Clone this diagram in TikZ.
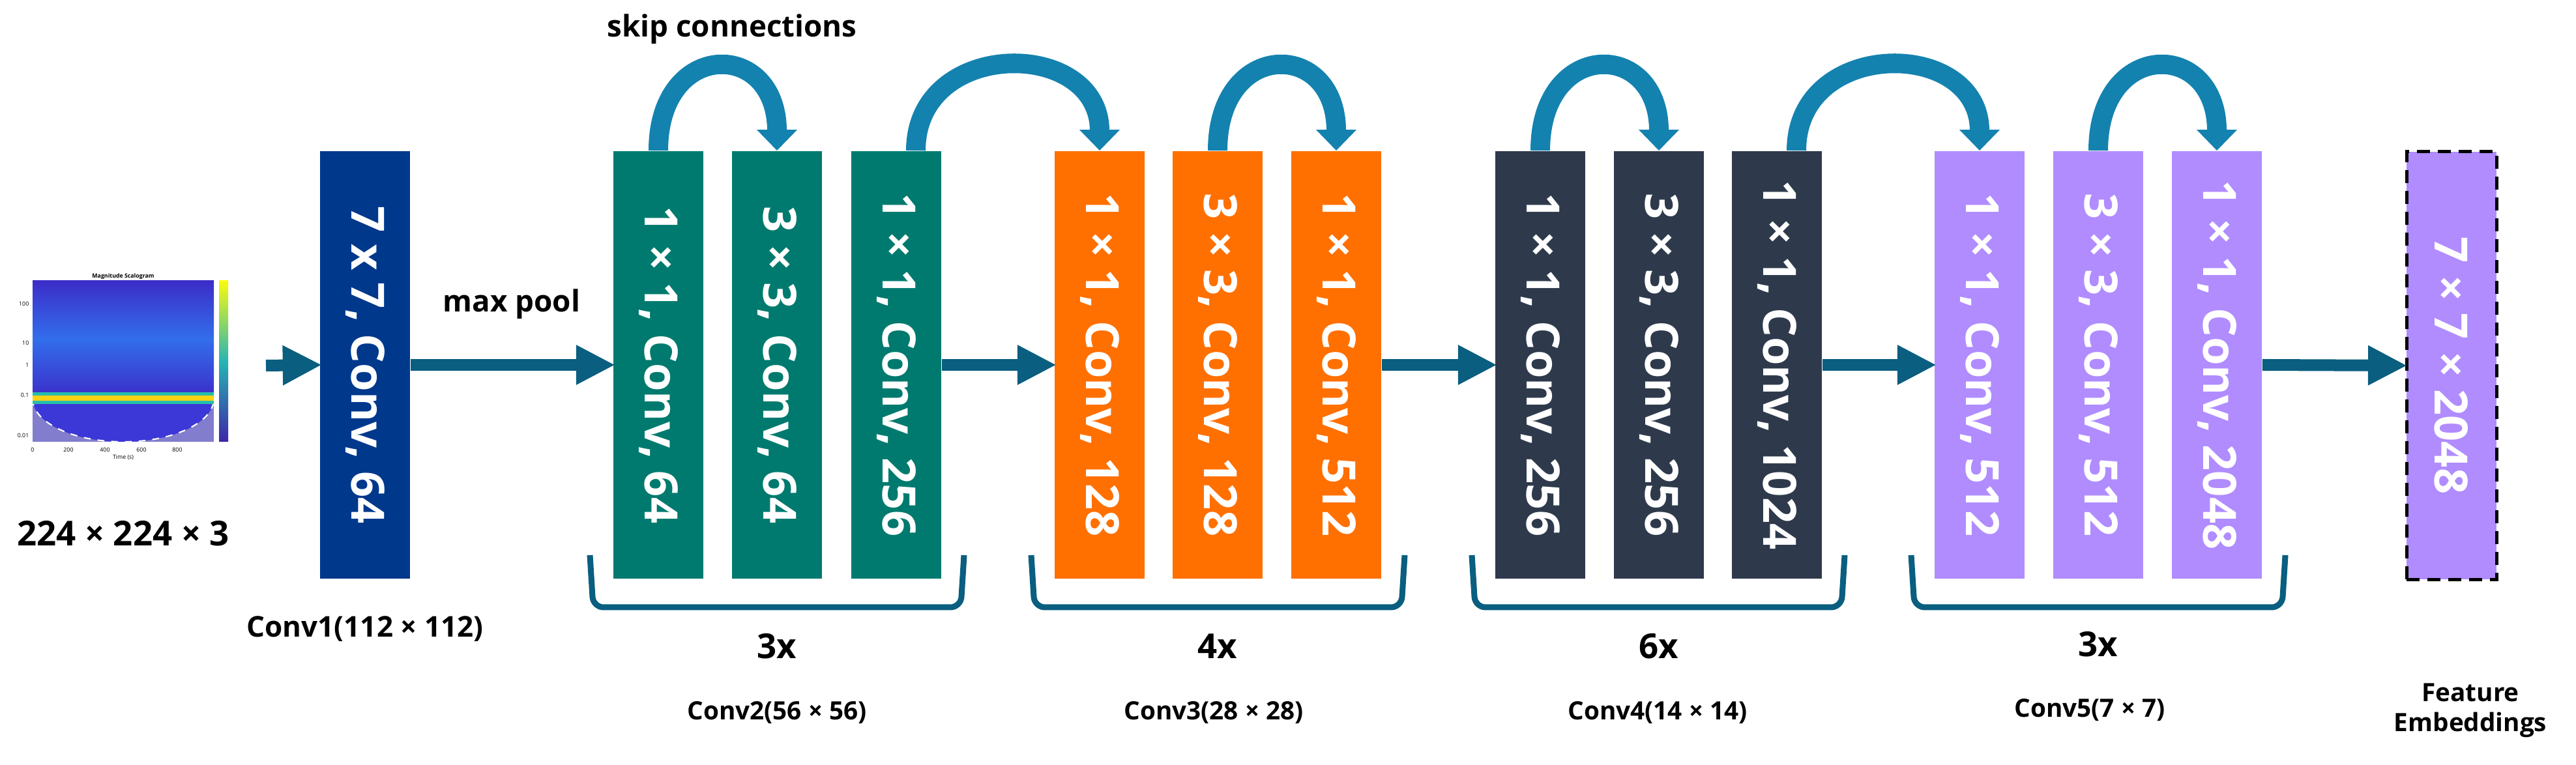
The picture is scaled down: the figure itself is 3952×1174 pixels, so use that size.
\documentclass[tikz,border=0pt]{standalone}
\usepackage{fontspec}
\setmainfont{Open Sans}
\usetikzlibrary{arrows.meta}
\definecolor{cblue}{RGB}{0,56,140}
\definecolor{cteal}{RGB}{0,122,110}
\definecolor{corange}{RGB}{255,112,0}
\definecolor{cdark}{RGB}{46,58,76}
\definecolor{cpurple}{RGB}{176,140,255}
\definecolor{carrow}{RGB}{10,94,128}
\definecolor{cskip}{RGB}{20,130,175}
\definecolor{sA}{RGB}{60,45,200}
\definecolor{sB}{RGB}{50,110,235}
\definecolor{sD}{RGB}{130,125,205}
\definecolor{sE}{RGB}{60,55,215}
\definecolor{sF}{RGB}{40,190,170}
\definecolor{sG}{RGB}{250,210,20}
\definecolor{sH}{RGB}{62,38,168}
\definecolor{sI}{RGB}{249,251,14}
\definecolor{sJ}{RGB}{40,180,180}
\begin{document}
\begin{tikzpicture}[x=0.01cm,y=-0.01cm,
  blk/.style={draw=none,minimum width=1.38cm,minimum height=6.56cm,inner sep=0pt,text=white,
    font=\fontsize{20}{24}\selectfont\bfseries},
  flow/.style={draw=carrow,line width=0.18cm,-{Triangle[width=0.57cm,length=0.6cm]},shorten >=-1pt},
  skip/.style={draw=cskip,line width=0.3cm,-{Triangle[width=0.6cm,length=0.32cm]}},
  brace/.style={draw=carrow,line width=0.09cm,rounded corners=0.16cm},
  lbl/.style={font=\fontsize{13}{15}\selectfont\bfseries,text=black},
  sub/.style={font=\fontsize{11}{13}\selectfont\bfseries,text=black},
  tiny/.style={font=\fontsize{2.5}{3}\selectfont,inner sep=0pt}]
\useasboundingbox (0,0) rectangle (3952,1174);
% scalogram
\node[tiny,font=\fontsize{2.5}{3}\selectfont\bfseries] (stitle) at (189,424) {Magnitude Scalogram};
\shade[top color=sA,bottom color=sA,middle color=sB] (50,431) rectangle (328,610);
\fill[sD] (50,610) rectangle (328,678);
\fill[sE] (50,612) arc[start angle=180,end angle=360,x radius=139,y radius=-66];
\draw[white,dashed,line width=0.6pt] (50,612) arc[start angle=180,end angle=360,x radius=139,y radius=-66];
\fill[sF] (50,602) rectangle (328,620);
\fill[sG] (50,607) rectangle (328,615);
\shade[bottom color=sH,top color=sI,middle color=sJ] (336,431) rectangle (350,678);
\foreach \t/\xx in {0/50,200/105,400/161,600/217,800/272}{\node[tiny] at (\xx,690) {\t};}
\foreach \t/\yy in {100/466,10/526,1/560,0.1/606,0.01/668}{\node[tiny,anchor=east] at (45,\yy) {\t};}
\node[tiny] (taxis) at (189,702) {Time (s)};
\node[lbl,font=\fontsize{15}{17}\selectfont\bfseries] (insize) at (189,819) {224 × 224 × 3};
\coordinate (inarr) at (408,561);
% blocks
\node[blk,fill=cblue] (c1) at (560,560) {\rotatebox{-90}{7 x 7, Conv, 64}};
\node[blk,fill=cteal] (a1) at (1010,560) {\rotatebox{-90}{1 × 1, Conv, 64}};
\node[blk,fill=cteal] (a2) at (1192,560) {\rotatebox{-90}{3 × 3, Conv, 64}};
\node[blk,fill=cteal] (a3) at (1375,560) {\rotatebox{-90}{1 × 1, Conv, 256}};
\node[blk,fill=corange] (b1) at (1687,560) {\rotatebox{-90}{1 × 1, Conv, 128}};
\node[blk,fill=corange] (b2) at (1868,560) {\rotatebox{-90}{3 × 3, Conv, 128}};
\node[blk,fill=corange] (b3) at (2050,560) {\rotatebox{-90}{1 × 1, Conv, 512}};
\node[blk,fill=cdark] (d1) at (2363,560) {\rotatebox{-90}{1 × 1, Conv, 256}};
\node[blk,fill=cdark] (d2) at (2545,560) {\rotatebox{-90}{3 × 3, Conv, 256}};
\node[blk,fill=cdark] (d3) at (2726,560) {\rotatebox{-90}{1 × 1, Conv, 1024}};
\node[blk,fill=cpurple] (e1) at (3037,560) {\rotatebox{-90}{1 × 1, Conv, 512}};
\node[blk,fill=cpurple] (e2) at (3219,560) {\rotatebox{-90}{3 × 3, Conv, 512}};
\node[blk,fill=cpurple] (e3) at (3401,560) {\rotatebox{-90}{1 × 1, Conv, 2048}};
\node[blk,fill=cpurple,draw=black,line width=0.05cm,dash pattern=on 0.2cm off 0.12cm] (fe) at (3761,561) {\rotatebox{-90}{7 × 7 × 2048}};
% flow arrows
\draw[flow] (inarr) -- (c1.west);
\draw[flow] (c1.east) -- node[lbl,above=0.5cm] (mp) {max pool} (a1.west);
\draw[flow] (a3.east) -- (b1.west);
\draw[flow] (b3.east) -- (d1.west);
\draw[flow] (d3.east) -- (e1.west);
\draw[flow] (e3.east) -- (fe.west);
% skip connections
\node[lbl] (skl) at (1123,45) {skip connections};
\draw[skip] (a1.north) .. controls (1010,60) and (1192,60) .. (a2.north);
\draw[skip] ([xshift=0.3cm]a3.north) .. controls (1405,58) and (1687,58) .. (b1.north);
\draw[skip] (b2.north) .. controls (1868,60) and (2050,60) .. (b3.north);
\draw[skip] (d1.north) .. controls (2363,60) and (2545,60) .. (d2.north);
\draw[skip] ([xshift=0.3cm]d3.north) .. controls (2756,58) and (3037,58) .. (e1.north);
\draw[skip] (e2.north) .. controls (3219,60) and (3401,60) .. (e3.north);
% braces
\draw[brace] (905,852) -- (910,932) -- (1474,932) -- (1479,852);
\draw[brace] (1582,852) -- (1587,932) -- (2150,932) -- (2155,852);
\draw[brace] (2258,852) -- (2263,932) -- (2825,932) -- (2830,852);
\draw[brace] (2932,852) -- (2937,932) -- (3501,932) -- (3506,852);
% labels
\node[sub,font=\fontsize{12.5}{14}\selectfont\bfseries] (l1) at (560,965) {Conv1(112 × 112)};
\node[lbl,font=\fontsize{15}{17}\selectfont\bfseries] (n2) at (1192,992) {3x};
\node[sub] (l2) at (1192,1094) {Conv2(56 × 56)};
\node[lbl,font=\fontsize{15}{17}\selectfont\bfseries] (n3) at (1868,992) {4x};
\node[sub] (l3) at (1862,1094) {Conv3(28 × 28)};
\node[lbl,font=\fontsize{15}{17}\selectfont\bfseries] (n4) at (2545,992) {6x};
\node[sub] (l4) at (2543,1094) {Conv4(14 × 14)};
\node[lbl,font=\fontsize{15}{17}\selectfont\bfseries] (n5) at (3219,989) {3x};
\node[sub] (l5) at (3206,1090) {Conv5(7 × 7)};
\node[sub,align=center] (lf) at (3790,1090) {Feature\\Embeddings};
\end{tikzpicture}
\end{document}
